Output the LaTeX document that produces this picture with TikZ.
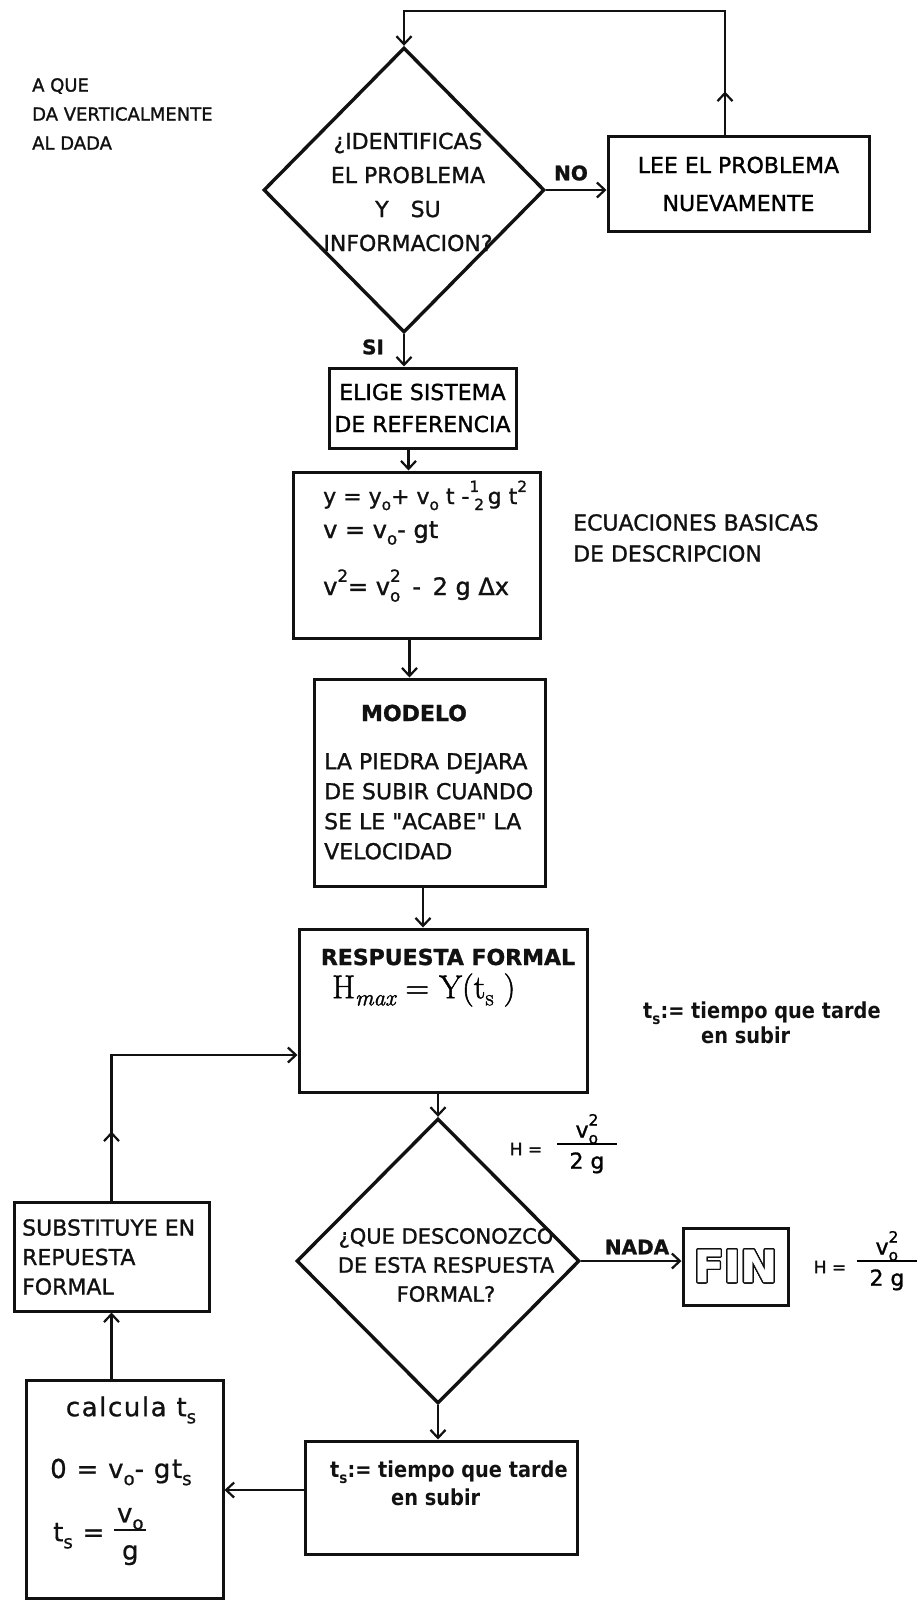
\documentclass[tikz,border=0pt]{standalone}
\usepackage{fontspec}
\usepackage{contour}
\usetikzlibrary{arrows.meta,positioning,shapes.geometric,decorations.markings,calc}
\setmainfont{DejaVu Sans}[FakeBold=1.2]
\newfontfamily\narrowfont{DejaVu Sans}[FakeStretch=0.88]
\newfontfamily\roundfont{DejaVu Sans}[LetterSpace=6,FakeBold=0.8]
\newfontfamily\printfont{Latin Modern Roman}[FakeBold=1.5]
\definecolor{ink}{HTML}{111111}
\contourlength{1.4pt}
\newcommand\lo[1]{\raisebox{-0.5ex}{\scalebox{0.7}{#1}}}
\newcommand\hi[1]{\raisebox{1.0ex}{\scalebox{0.7}{#1}}}
\newcommand\losup[2]{\rlap{\lo{#1}}\hi{#2}}
\newcommand\vfrac[3]{{\setlength\arrayrulewidth{1.8pt}%
  \begin{tabular}[c]{@{}c@{}}\makebox[#1]{#2}\\[-2pt]\hline\rule{0pt}{1.1em}#3\end{tabular}}}
\tikzset{
  stepbox/.style={draw=ink, line width=3pt, inner sep=0pt, align=center,
                  font=\fontsize{22}{30}\selectfont},
  decision/.style={diamond, draw=ink, line width=3.4pt, inner sep=0pt},
  flowarr/.style={-{Straight Barb[length=8pt,width=15pt]}, draw=ink, line width=2.2pt},
  midtip/.style={postaction={decorate}, decoration={markings,
                 mark=at position #1 with {\arrow{Straight Barb[length=8pt,width=15pt]}}}},
  boxtext/.style={inner sep=0pt, align=left, text=ink, font=\fontsize{22}{30}\selectfont},
  qtext/.style={inner sep=0pt, align=center, text=ink},
  lbl/.style={inner sep=0pt, text=ink, font=\fontsize{20}{24}\selectfont\bfseries},
  headtext/.style={inner sep=0pt, text=ink, font=\fontsize{22}{26}\selectfont\bfseries},
  narrowtext/.style={inner sep=0pt, align=left, text=ink,
                     font=\fontsize{22}{27}\selectfont\narrowfont\bfseries},
  roundtext/.style={inner sep=0pt, text=ink, font=\fontsize{26}{30}\selectfont\roundfont},
  smalltext/.style={inner sep=0pt, text=ink, font=\fontsize{17}{20}\selectfont}
}
\begin{document}
\begin{tikzpicture}[x=1pt,y=-1pt]
  \fill[white] (0,0) rectangle (917,1600);
  \useasboundingbox (0,0) rectangle (917,1600);

  \node[boxtext, anchor=north west, font=\fontsize{18}{29}\selectfont] (title) at (32,78)
    {A QUE\\DA VERTICALMENTE\\AL DADA};

  % pregunta inicial
  \node[decision, minimum width=281pt, minimum height=285pt] (q1) at (404,190) {};
  \node[qtext, font=\fontsize{22}{34}\selectfont] (q1txt) at (408,192)
    {¿IDENTIFICAS\\EL PROBLEMA\\Y\quad SU\\INFORMACION?};
  \node[stepbox, minimum width=261pt, minimum height=94pt] (lee) at (738.5,184)
    {LEE EL PROBLEMA\\[8pt]NUEVAMENTE};
  \node[lbl] (no) at (571,173) {NO};
  \draw[flowarr] (q1.east) -- (q1.east -| lee.west);
  \coordinate (looptop) at (725,11);
  \draw[flowarr, midtip=44pt] (lee.north -| looptop) -- (looptop) -| (q1.north);

  \node[lbl] (si) at (373,347) {SI};
  \node[stepbox, minimum width=187pt, minimum height=80pt] (elige) at (422.5,408)
    {ELIGE SISTEMA\\[2pt]DE REFERENCIA};
  \draw[flowarr] (q1.south) -- (q1.south |- elige.north);

  % ecuaciones
  \node[stepbox, minimum width=247pt, minimum height=166pt] (eqs) at (416.5,555) {};
  \node[boxtext, anchor=base west] (eq1) at (323,504)
    {y = y\lo{o}+ v\lo{o} t -\hi{1}\kern-5pt\lo{2}\,g t\hi{2}};
  \node[boxtext, anchor=base west, font=\fontsize{24}{30}\selectfont] (eq2) at (323,538)
    {v = v\lo{o}- gt};
  \node[boxtext, anchor=base west, font=\fontsize{24}{30}\selectfont] (eq3) at (323,595)
    {v\hi{2}= v\losup{o}{2}\, -\, 2 g Δx};
  \draw[flowarr] ([xshift=-14pt]elige.south) -- ([xshift=-14pt]elige.south |- eqs.north);
  \node[boxtext, anchor=west, font=\fontsize{22}{31}\selectfont] (ecu) at (573,538)
    {ECUACIONES BASICAS\\DE DESCRIPCION};

  % modelo
  \node[stepbox, minimum width=231pt, minimum height=207pt] (modelo) at (429.5,782.5) {};
  \node[headtext] (modtitle) at (414,713) {MODELO};
  \node[boxtext, anchor=north west] (modbody) at (324,753)
    {LA PIEDRA DEJARA\\DE SUBIR CUANDO\\SE LE \textquotedbl ACABE\textquotedbl{} LA\\VELOCIDAD};
  \draw[flowarr] ([xshift=-7pt]eqs.south) -- ([xshift=-7pt]eqs.south |- modelo.north);

  % respuesta formal
  \node[stepbox, minimum width=288pt, minimum height=163pt] (resp) at (443,1010.5) {};
  \node[headtext] (resptitle) at (448,957) {RESPUESTA FORMAL};
  \node[inner sep=0pt, anchor=west, font=\fontsize{33}{36}\selectfont\printfont] (hmax) at (332,990)
    {H\lo{\itshape max} = Y(t\lo{s} )};
  \draw[flowarr] ([xshift=-6.5pt]modelo.south) -- ([xshift=-6.5pt]modelo.south |- resp.north);
  \node[narrowtext, anchor=north west, font=\fontsize{22}{25}\selectfont\narrowfont\bfseries] (tsnote) at (643,1002)
    {t\lo{s}:= tiempo que tarde\\\hspace{58pt}en subir};

  % segunda pregunta
  \node[decision, minimum width=283pt, minimum height=285pt] (q2) at (438,1261) {};
  \node[qtext, font=\fontsize{21}{29}\selectfont] (q2txt) at (446,1265)
    {¿QUE DESCONOZCO\\DE ESTA RESPUESTA\\FORMAL?};
  \draw[flowarr] (resp.south -| q2.north) -- (q2.north);
  \node[smalltext] (hup) at (526,1149) {H =};
  \node[inner sep=0pt, font=\fontsize{22}{24}\selectfont] (hupfrac) at (587,1145)
    {\vfrac{60pt}{v\losup{o}{2}}{2 g}};

  \node[stepbox, minimum width=105pt, minimum height=77pt,
        font=\fontsize{44}{44}\selectfont\bfseries] (fin) at (735.5,1266.5)
    {\contour{ink}{\textcolor{white}{FIN}}};
  \draw[flowarr] (q2.east) -- (q2.east -| fin.west);
  \node[lbl] (nada) at (637,1247) {NADA};
  \node[smalltext] (hright) at (830,1267) {H =};
  \node[inner sep=0pt, font=\fontsize{22}{24}\selectfont] (hrightfrac) at (887,1262)
    {\vfrac{60pt}{v\losup{o}{2}}{2 g}};

  % calculo de t_s
  \node[stepbox, minimum width=272pt, minimum height=113pt] (tsbox) at (441,1497.5) {};
  \node[narrowtext, anchor=north west, font=\fontsize{22}{28}\selectfont\narrowfont\bfseries] (tstxt) at (330,1461)
    {t\lo{s}:= tiempo que tarde\\\hspace{61pt}en subir};
  \draw[flowarr] (q2.south) -- (q2.south |- tsbox.north);

  \node[stepbox, minimum width=197pt, minimum height=218pt] (calc) at (124.5,1489) {};
  \node[roundtext] (calc1) at (131,1410) {calcula t\lo{s}};
  \node[roundtext, anchor=west] (calc2) at (50,1472) {0 = v\lo{o}- gt\lo{s}};
  \node[roundtext, anchor=west] (calc3) at (53,1535) {t\lo{s} = \vfrac{32pt}{v\lo{o}}{g}};
  \draw[flowarr] ([yshift=7.5pt]tsbox.west) -- ([yshift=7.5pt]tsbox.west -| calc.east);

  \node[stepbox, minimum width=195pt, minimum height=109pt] (subst) at (111.5,1256.5) {};
  \node[boxtext, anchor=north west, font=\fontsize{22}{29.5}\selectfont] (substtxt) at (22,1219)
    {SUBSTITUYE EN\\REPUESTA\\FORMAL};
  \draw[flowarr] (subst.south |- calc.north) -- (subst.south);
  \draw[flowarr, midtip=69pt] (subst.north) |- ([yshift=-44.5pt]resp.west);
\end{tikzpicture}
\end{document}
